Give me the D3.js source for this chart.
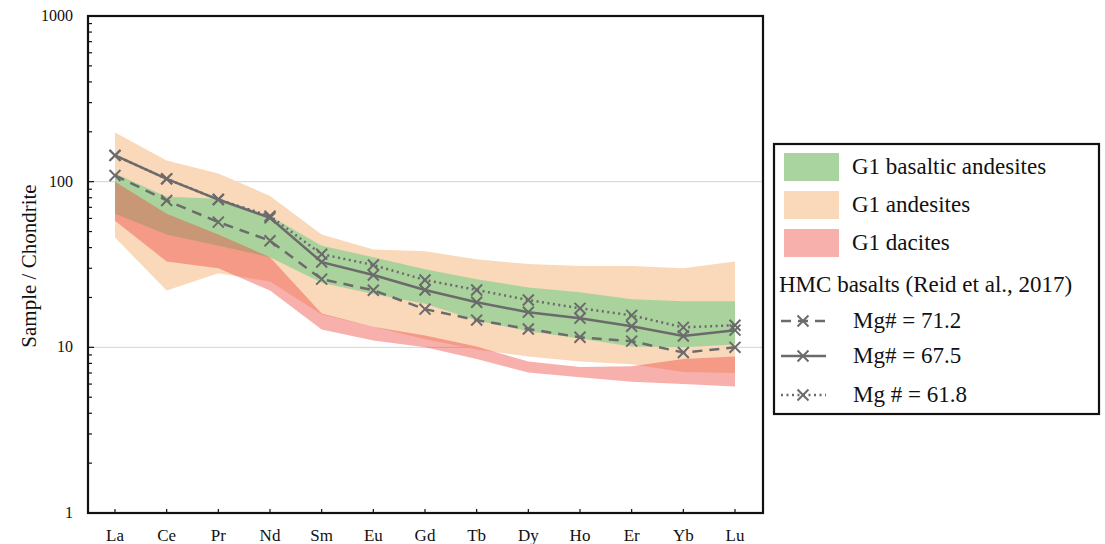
<!DOCTYPE html>
<html>
<head>
<meta charset="utf-8">
<script src="https://cdn.jsdelivr.net/npm/d3@7"></script>
<style>
  body { margin: 0; background: #fff; }
  svg text { font-family: "Liberation Serif", "Times New Roman", Times, serif; fill: #111; }
</style>
</head>
<body>
<svg id="chart" width="1105" height="544"></svg>
<script>
// REE elements on the x axis
const elements = ["La", "Ce", "Pr", "Nd", "Sm", "Eu", "Gd", "Tb", "Dy", "Ho", "Er", "Yb", "Lu"];
const yTicks = [1, 10, 100, 1000];

// HMC basalts (Reid et al., 2017)
const mg712 = [109, 77, 57, 44, 25.8, 22.1, 17, 14.6, 12.9, 11.5, 10.9, 9.3, 10.0];
const mg675 = [144, 104, 78, 60.5, 32.7, 27.3, 22.2, 18.7, 16.3, 15.0, 13.4, 11.7, 12.7];
const mg618 = [144, 104, 78, 62, 36.5, 31.4, 25.5, 22.2, 19.3, 17.2, 15.6, 13.2, 13.6];

// G1 fields (upper / lower envelope)
const basAndUpper = [112, 81, 79, 62, 41, 35, 29.6, 25.8, 23, 21.5, 19.5, 19, 19];
const basAndLower = [64, 48, 41, 35, 24.5, 21, 18.3, 14.5, 12.5, 11.3, 10.1, 10, 10.4];
const andUpper = [198, 134, 112, 82, 48, 39, 38, 34, 31.8, 31, 31, 30, 33];
const andLower = [46, 22, 28, 25, 15.8, 13.3, 11.2, 9.7, 8.8, 8.2, 7.9, 7.1, 7.0];
const dacUpper = [100, 64, 48, 35, 16, 13.3, 11.8, 10.1, 8.2, 7.6, 7.7, 8.5, 8.8];
const dacLower = [58, 33, 30, 22, 12.8, 11, 10.0, 8.5, 7.05, 6.6, 6.2, 6.0, 5.8];

const bandNames = ["G1 basaltic andesites", "G1 andesites", "G1 dacites"];
const lineNames = ["Mg# = 71.2", "Mg# = 67.5", "Mg # = 61.8"];

function ree_chart(){

  var svg = d3.select("#chart")
    .attr("font-family", "'Liberation Serif', 'Times New Roman', serif");

  // plot frame
  var left = 88, right = 763, plotTop = 16, bottom = 513;

  var x = d3.scalePoint().domain(elements).range([115, 735]);
  var y = d3.scaleLog().domain([1, 1000]).range([bottom, plotTop]);

  var lineColor = "#6b6b6b";
  var fills = [
    {fill: "rgb(164,210,155)", opacity: 0.95},   // basaltic andesites
    {fill: "rgb(250,216,186)", opacity: 1},      // andesites
    {fill: "rgb(238,80,72)", opacity: 0.45}      // dacites
  ];

  // grid lines at 10 and 100
  svg.append("g").selectAll("line")
    .data([10, 100])
    .enter().append("line")
      .attr("x1", left).attr("x2", right)
      .attr("y1", d => y(d)).attr("y2", d => y(d))
      .attr("stroke", "#d4d4d4").attr("stroke-width", 1);

  // bands
  var area = d3.area()
    .x((d, i) => x(elements[i]))
    .y0(d => y(d[1]))
    .y1(d => y(d[0]));

  var zip = (a, b) => a.map((v, i) => [v, b[i]]);

  // andesites first, then basaltic andesites, dacites on top
  svg.append("path").datum(zip(andUpper, andLower))
    .attr("d", area).attr("fill", fills[1].fill).attr("fill-opacity", fills[1].opacity);
  svg.append("path").datum(zip(basAndUpper, basAndLower))
    .attr("d", area).attr("fill", fills[0].fill).attr("fill-opacity", fills[0].opacity);
  svg.append("path").datum(zip(dacUpper, dacLower))
    .attr("d", area).attr("fill", fills[2].fill).attr("fill-opacity", fills[2].opacity);

  // HMC basalt lines
  var series = [
    {vals: mg712, dash: "10,7"},
    {vals: mg675, dash: null},
    {vals: mg618, dash: "2,3.5"}
  ];
  var line = d3.line().x((d, i) => x(elements[i])).y(d => y(d));
  var cross = d3.symbol().type(d3.symbolX).size(80);

  series.forEach(s => {
    svg.append("path").datum(s.vals)
      .attr("d", line)
      .attr("fill", "none")
      .attr("stroke", lineColor)
      .attr("stroke-width", 2.5)
      .attr("stroke-dasharray", s.dash);
    svg.append("g").selectAll("path")
      .data(s.vals)
      .enter().append("path")
        .attr("d", cross)
        .attr("transform", (d, i) => `translate(${x(elements[i])},${y(d)})`)
        .attr("fill", "none")
        .attr("stroke", lineColor)
        .attr("stroke-width", 2);
  });

  // y axis ticks (inside), majors + minors
  var minor = [];
  for (let p = 0; p < 3; p++) {
    for (let m = 2; m <= 9; m++) minor.push(m * Math.pow(10, p));
  }
  svg.append("g").selectAll("line")
    .data(yTicks.concat(minor))
    .enter().append("line")
      .attr("x1", left).attr("x2", d => yTicks.includes(d) ? left + 6 : left + 4)
      .attr("y1", d => y(d)).attr("y2", d => y(d))
      .attr("stroke", "#111").attr("stroke-width", 1.2);

  svg.append("g").selectAll("text")
    .data(yTicks)
    .enter().append("text")
      .attr("x", 73)
      .attr("y", d => y(d) + 5)
      .attr("text-anchor", "end")
      .attr("font-size", 16)
      .text(d => d);

  // x axis ticks (inside) and labels
  svg.append("g").selectAll("line")
    .data(elements)
    .enter().append("line")
      .attr("x1", d => x(d)).attr("x2", d => x(d))
      .attr("y1", bottom).attr("y2", bottom - 4)
      .attr("stroke", "#111").attr("stroke-width", 1.2);

  svg.append("g").selectAll("text")
    .data(elements)
    .enter().append("text")
      .attr("x", d => x(d))
      .attr("y", 541)
      .attr("text-anchor", "middle")
      .attr("font-size", 17)
      .text(d => d);

  // frame
  svg.append("rect")
    .attr("x", left).attr("y", plotTop)
    .attr("width", right - left).attr("height", bottom - plotTop)
    .attr("fill", "none").attr("stroke", "#111").attr("stroke-width", 2.2);

  // y title
  svg.append("text")
    .attr("transform", "translate(36,266) rotate(-90)")
    .attr("text-anchor", "middle")
    .attr("font-size", 21)
    .text("Sample / Chondrite");

  // legend
  var lg = svg.append("g");
  lg.append("rect")
    .attr("x", 774).attr("y", 144).attr("width", 325).attr("height", 270)
    .attr("fill", "#fff").attr("stroke", "#111").attr("stroke-width", 2.2);

  var bandRowY = [167, 205, 243];
  bandNames.forEach((name, i) => {
    lg.append("rect")
      .attr("x", 784).attr("y", bandRowY[i] - 14)
      .attr("width", 55).attr("height", 28)
      .attr("fill", fills[i].fill).attr("fill-opacity", fills[i].opacity);
    lg.append("text")
      .attr("x", 852).attr("y", bandRowY[i] + 7)
      .attr("font-size", 23)
      .text(name);
  });

  lg.append("text")
    .attr("x", 779).attr("y", 292)
    .attr("font-size", 23)
    .text("HMC basalts (Reid et al., 2017)");

  var lineRowY = [321, 356, 395];
  series.forEach((s, i) => {
    lg.append("line")
      .attr("x1", 781).attr("x2", 826)
      .attr("y1", lineRowY[i]).attr("y2", lineRowY[i])
      .attr("stroke", lineColor).attr("stroke-width", 2.5)
      .attr("stroke-dasharray", s.dash);
    lg.append("path")
      .attr("d", cross)
      .attr("transform", `translate(803,${lineRowY[i]})`)
      .attr("fill", "none").attr("stroke", lineColor).attr("stroke-width", 2);
    lg.append("text")
      .attr("x", 853).attr("y", lineRowY[i] + 7)
      .attr("font-size", 23)
      .text(lineNames[i]);
  });
}

ree_chart();
</script>
</body>
</html>
